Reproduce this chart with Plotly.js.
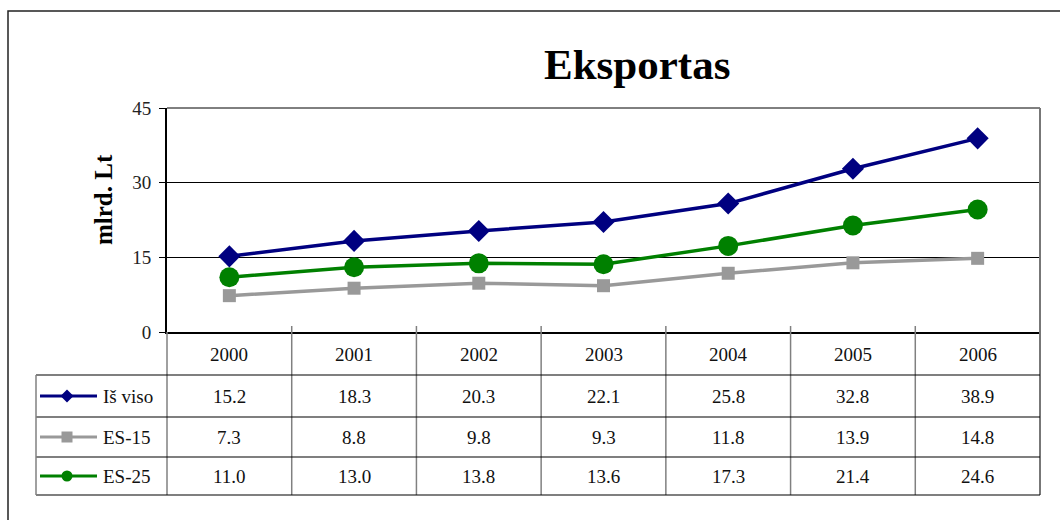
<!DOCTYPE html>
<html><head><meta charset="utf-8">
<script src="https://cdn.plot.ly/plotly-3.0.1.min.js"></script>
<style>html,body{margin:0;padding:0;background:#fff}</style>
</head><body><div id="chart" style="width:1060px;height:520px"></div>
<script>
const years = ['2000','2001','2002','2003','2004','2005','2006'];
const seriesNames = ['Iš viso','ES-15','ES-25'];
const isViso = [15.2,18.3,20.3,22.1,25.8,32.8,38.9];
const es15 = [7.3,8.8,9.8,9.3,11.8,13.9,14.8];
const es25 = [11.0,13.0,13.8,13.6,17.3,21.4,24.6];
const yTicks = [0,15,30,45];
const titleText = 'Eksportas';
const yTitle = 'mlrd. Lt';

const seriesValues = [isViso, es15, es25];
const colors = ['#000080','#999999','#008000'];
const symbols = ['diamond','square','circle'];
const msizes = [17,13,20];
const lwidths = [3.5,3.5,3.5];

const W=1060,H=520,L=167,R=1040,T=108,B=332;
const px = p => (p-L)/(R-L);
const py = p => (B-p)/(B-T);
const SERIF = '"Liberation Serif", "DejaVu Serif", serif';
const txtFont = {family:SERIF,size:19,color:'#111'};

const traces = seriesValues.map((v,k)=>({
  type:'scatter',mode:'lines+markers',x:years,y:v,name:seriesNames[k],
  line:{color:colors[k],width:lwidths[k]},
  marker:{symbol:symbols[k],size:msizes[k],color:colors[k]},
  cliponaxis:false,hoverinfo:'skip'
}));

const shapes=[];
const annotations=[];
// outer border
shapes.push({type:'rect',xref:'paper',yref:'paper',x0:px(8),x1:px(1075),y0:py(11),y1:py(535),line:{color:'#222',width:1.5}});
// plot top border
shapes.push({type:'line',xref:'paper',yref:'paper',x0:px(L),x1:px(R),y0:1,y1:1,line:{color:'#000',width:1}});
// table geometry
const rowLines=[375,417,457,495];
const rowCenters=[396,437,476];
const nCols=years.length;
for(let k=0;k<=nCols;k++){
  const xx=k/nCols;
  shapes.push({type:'line',xref:'paper',yref:'paper',x0:xx,x1:xx,y0:py(k===0?332:326),y1:py(495),
    line:{color:k===nCols?'#777':'#808080',width:k===nCols?2:1.5}});
}
shapes.push({type:'line',xref:'paper',yref:'paper',x0:1,x1:1,y0:1,y1:py(332),line:{color:'#777',width:2}});
rowLines.forEach(r=>{
  shapes.push({type:'line',xref:'paper',yref:'paper',x0:px(36),x1:px(R),y0:py(r),y1:py(r),line:{color:'#000',width:1.2}});
});
shapes.push({type:'line',xref:'paper',yref:'paper',x0:px(36),x1:px(36),y0:py(375),y1:py(495),line:{color:'#808080',width:1.5}});
// header years
years.forEach((yr,i)=>{
  annotations.push({xref:'x',yref:'paper',x:i,y:py(354),text:yr,showarrow:false,font:txtFont,xanchor:'center',yanchor:'middle'});
});
// table rows
seriesValues.forEach((vals,r)=>{
  const cy=rowCenters[r];
  shapes.push({type:'line',xref:'paper',yref:'paper',x0:px(40),x1:px(97),y0:py(cy),y1:py(cy),line:{color:colors[r],width:3}});
  const mx=67;
  if(symbols[r]==='diamond'){
    shapes.push({type:'path',xref:'paper',yref:'paper',
      path:`M ${px(mx-6.5)} ${py(cy)} L ${px(mx)} ${py(cy-6.5)} L ${px(mx+6.5)} ${py(cy)} L ${px(mx)} ${py(cy+6.5)} Z`,
      fillcolor:colors[r],line:{color:colors[r],width:0}});
  } else if(symbols[r]==='square'){
    shapes.push({type:'rect',xref:'paper',yref:'paper',x0:px(mx-5.5),x1:px(mx+5.5),y0:py(cy-5.5),y1:py(cy+5.5),fillcolor:colors[r],line:{width:0}});
  } else {
    shapes.push({type:'circle',xref:'paper',yref:'paper',x0:px(mx-5.5),x1:px(mx+5.5),y0:py(cy-5.5),y1:py(cy+5.5),fillcolor:colors[r],line:{width:0}});
  }
  annotations.push({xref:'paper',yref:'paper',x:px(101),y:py(cy),text:seriesNames[r],showarrow:false,font:txtFont,xanchor:'left',yanchor:'middle'});
  vals.forEach((v,i)=>{
    annotations.push({xref:'x',yref:'paper',x:i,y:py(cy),text:v.toFixed(1),showarrow:false,font:txtFont,xanchor:'center',yanchor:'middle'});
  });
});
// title
annotations.push({xref:'paper',yref:'paper',x:px(637),y:py(65),text:'<b>'+titleText+'</b>',showarrow:false,
  font:{family:SERIF,size:43,color:'#000'},xanchor:'center',yanchor:'middle'});
// y-axis title
annotations.push({xref:'paper',yref:'paper',x:px(103),y:py(200),text:'<b>'+yTitle+'</b>',textangle:-90,showarrow:false,
  font:{family:SERIF,size:25,color:'#000'},xanchor:'center',yanchor:'middle'});

const layout={
  width:W,height:H,autosize:false,
  margin:{l:L,r:W-R,t:T,b:H-B,pad:0},
  paper_bgcolor:'#fff',plot_bgcolor:'#fff',
  showlegend:false,
  xaxis:{type:'category',categoryorder:'array',categoryarray:years,range:[-0.5,nCols-0.5],
    showticklabels:false,ticks:'',showgrid:false,zeroline:false,showline:true,linecolor:'#000',linewidth:2,fixedrange:true},
  yaxis:{range:[0,45],tickvals:yTicks,ticktext:yTicks.map(String),showline:true,linecolor:'#000',linewidth:2,
    ticks:'outside',ticklen:6,tickwidth:1,tickcolor:'#000',ticklabelstandoff:4,
    showgrid:true,gridcolor:'#000',gridwidth:1,zeroline:false,
    tickfont:{family:SERIF,size:19,color:'#222'},fixedrange:true},
  shapes:shapes,annotations:annotations
};
Plotly.newPlot('chart',traces,layout,{staticPlot:true,displayModeBar:false});
</script></body></html>
